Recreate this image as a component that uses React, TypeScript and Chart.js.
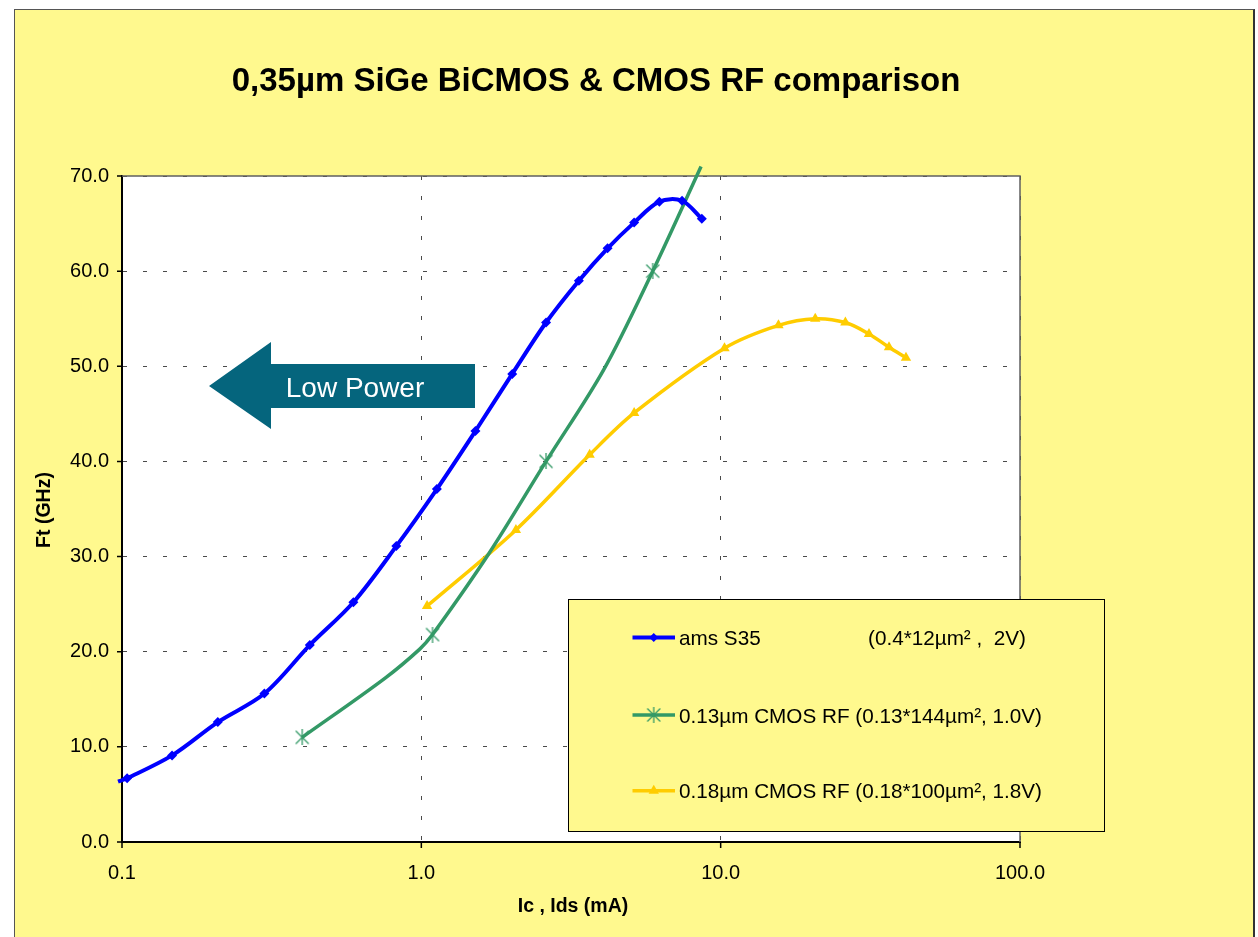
import React, { useEffect, useRef } from 'react';
import { Chart, registerables } from 'chart.js';

Chart.register(...registerables);

const FONT = "'Liberation Sans', Arial, Helvetica, sans-serif";

// ---- text ----
const TITLE = '0,35µm SiGe BiCMOS & CMOS RF comparison';
const X_TITLE = 'Ic , Ids (mA)';
const Y_TITLE = 'Ft (GHz)';
const ARROW_TEXT = 'Low Power';

// ---- ticks ----
const xTickValues = [0.1, 1, 10, 100];
const xTickLabels = ['0.1', '1.0', '10.0', '100.0'];
const yTickValues = [0, 10, 20, 30, 40, 50, 60, 70];

// ---- series: ams S35 ----
const amsLabel = 'ams S35\t(0.4*12µm² ,  2V)';
const amsIc = [0.097, 0.104, 0.147, 0.209, 0.299, 0.424, 0.593, 0.825, 1.127, 1.516, 2.012, 2.61, 3.36, 4.19, 5.14, 6.24, 7.43, 8.65];
const amsFt = [6.35, 6.7, 9.1, 12.6, 15.6, 20.7, 25.2, 31.1, 37.1, 43.2, 49.2, 54.6, 59.0, 62.4, 65.1, 67.3, 67.4, 65.5];
const amsMarked = [0, 1, 1, 1, 1, 1, 1, 1, 1, 1, 1, 1, 1, 1, 1, 1, 1, 1];

// ---- series: 0.13µm CMOS RF ----
const cmos13Label = '0.13µm CMOS RF (0.13*144µm², 1.0V)';
const cmos13Ids = [0.40, 0.755, 0.99, 1.09, 1.68, 2.61, 4.06, 5.93, 8.6];
const cmos13Ft = [11.0, 17.2, 20.3, 21.8, 30.3, 40.0, 49.6, 60.0, 71.0];
const cmos13Marked = [1, 0, 0, 1, 0, 1, 0, 1, 0];

// ---- series: 0.18µm CMOS RF ----
const cmos18Label = '0.18µm CMOS RF (0.18*100µm², 1.8V)';
const cmos18Ids = [1.045, 2.07, 3.65, 5.14, 10.3, 15.6, 20.7, 26.1, 31.3, 36.5, 41.6];
const cmos18Ft = [24.8, 32.8, 40.7, 45.1, 51.9, 54.3, 55.0, 54.6, 53.4, 52.0, 50.9];
const cmos18Marked = [1, 1, 1, 1, 1, 1, 1, 1, 1, 1, 1];

// ---- colours ----
const BG = '#FFF98E';
const BLUE = '#0000FF';
const GREEN = '#339966';
const YELLOW = '#FFCC00';
const ARROW = '#05657D';
const GRID = '#4A4A4A';

// ---- layout (canvas px) ----
const CW = 1238;
const CH = 927;
const AREA = { left: 107, top: 166, right: 1005, bottom: 832 };
const LEGEND = { left: 553, top: 589, right: 1089, bottom: 821, rows: [627.5, 705, 780.7], lineX0: 617.5, lineX1: 660, textX: 664, text2X: 853 };

function makeAsterisk(size: number, color: string, lw: number) {
  const c = document.createElement('canvas');
  c.width = size;
  c.height = size;
  const g = c.getContext('2d')!;
  g.strokeStyle = color;
  g.lineWidth = lw;
  g.beginPath();
  g.moveTo(1.5, 1.5);
  g.lineTo(size - 1.5, size - 1.5);
  g.moveTo(size - 1.5, 1.5);
  g.lineTo(1.5, size - 1.5);
  g.moveTo(size / 2, 0);
  g.lineTo(size / 2, size);
  g.stroke();
  return c;
}

function drawMarker(ctx: CanvasRenderingContext2D, style: any, x: number, y: number, color: string, r: number) {
  ctx.save();
  ctx.fillStyle = color;
  if (style === 'rectRot') {
    ctx.beginPath();
    ctx.moveTo(x, y - r);
    ctx.lineTo(x + r, y);
    ctx.lineTo(x, y + r);
    ctx.lineTo(x - r, y);
    ctx.closePath();
    ctx.fill();
  } else if (style === 'triangle') {
    ctx.beginPath();
    ctx.moveTo(x, y - r);
    ctx.lineTo(x + r * 0.866, y + r * 0.5);
    ctx.lineTo(x - r * 0.866, y + r * 0.5);
    ctx.closePath();
    ctx.fill();
  } else if (style && style.width) {
    ctx.drawImage(style, x - style.width / 2, y - style.height / 2);
  }
  ctx.restore();
}

const decorPlugin = {
  id: 'decor',
  beforeDraw(chart: any) {
    const { ctx, chartArea: a } = chart;
    ctx.save();
    ctx.fillStyle = '#FFFFFF';
    ctx.fillRect(a.left, a.top, a.right - a.left, a.bottom - a.top);
    ctx.restore();
  },
  beforeDatasetsDraw(chart: any) {
    const { ctx, chartArea: a, scales } = chart;
    ctx.save();
    ctx.strokeStyle = '#606060';
    ctx.lineWidth = 1.5;
    ctx.beginPath();
    ctx.moveTo(a.left, a.top);
    ctx.lineTo(a.right, a.top);
    ctx.lineTo(a.right, a.bottom);
    ctx.stroke();
    ctx.strokeStyle = '#000';
    ctx.lineWidth = 1.5;
    ctx.beginPath();
    for (const v of yTickValues) {
      const py = scales.y.getPixelForValue(v);
      ctx.moveTo(a.left - 5, py);
      ctx.lineTo(a.left, py);
    }
    for (const v of xTickValues) {
      const px = scales.x.getPixelForValue(v);
      ctx.moveTo(px, a.bottom);
      ctx.lineTo(px, a.bottom + 6);
    }
    ctx.stroke();
    ctx.restore();
  },
  afterDatasetsDraw(chart: any) {
    const { ctx } = chart;
    ctx.save();
    ctx.fillStyle = ARROW;
    ctx.beginPath();
    ctx.moveTo(194, 376);
    ctx.lineTo(256, 332);
    ctx.lineTo(256, 354);
    ctx.lineTo(460, 354);
    ctx.lineTo(460, 398);
    ctx.lineTo(256, 398);
    ctx.lineTo(256, 419);
    ctx.closePath();
    ctx.fill();
    ctx.fillStyle = '#FFFFFF';
    ctx.font = `28px ${FONT}`;
    ctx.textAlign = 'center';
    ctx.textBaseline = 'alphabetic';
    ctx.fillText(ARROW_TEXT, 340, 387);
    ctx.restore();

    ctx.save();
    ctx.fillStyle = BG;
    ctx.fillRect(LEGEND.left, LEGEND.top, LEGEND.right - LEGEND.left, LEGEND.bottom - LEGEND.top);
    ctx.strokeStyle = '#000';
    ctx.lineWidth = 1;
    ctx.strokeRect(LEGEND.left + 0.5, LEGEND.top + 0.5, LEGEND.right - LEGEND.left, LEGEND.bottom - LEGEND.top);
    chart.data.datasets.forEach((ds: any, i: number) => {
      const y = LEGEND.rows[i];
      ctx.strokeStyle = ds.borderColor;
      ctx.lineWidth = ds.borderWidth;
      ctx.beginPath();
      ctx.moveTo(LEGEND.lineX0, y);
      ctx.lineTo(LEGEND.lineX1, y);
      ctx.stroke();
      drawMarker(ctx, ds.pointStyle, (LEGEND.lineX0 + LEGEND.lineX1) / 2, y, ds.borderColor, ds.legendMarkerRadius);
      ctx.fillStyle = '#000';
      ctx.font = `20.7px ${FONT}`;
      ctx.textAlign = 'left';
      ctx.textBaseline = 'alphabetic';
      const parts = String(ds.label).split('\t');
      ctx.fillText(parts[0], LEGEND.textX, y + 7.5);
      if (parts[1]) ctx.fillText(parts[1], LEGEND.text2X, y + 7.5);
    });
    ctx.restore();
  },
  afterDraw(chart: any) {
    const { ctx } = chart;
    ctx.save();
    ctx.fillStyle = '#000';
    ctx.textAlign = 'center';
    ctx.textBaseline = 'alphabetic';
    ctx.font = `bold 33px ${FONT}`;
    ctx.fillText(TITLE, 581, 81);
    ctx.font = `bold 19.5px ${FONT}`;
    ctx.fillText(X_TITLE, 558, 902);
    ctx.translate(30, 500);
    ctx.rotate(-Math.PI / 2);
    ctx.textBaseline = 'middle';
    ctx.fillText(Y_TITLE, 0, 0);
    ctx.restore();
  },
};

export default function App() {
  const ref = useRef<HTMLCanvasElement>(null);

  useEffect(() => {
    document.body.style.margin = '0';
    const asterisk = makeAsterisk(16, GREEN, 1.3);
    const pts = (xs: number[], ys: number[]) => xs.map((x, i) => ({ x, y: ys[i] }));

    const chart = new Chart(ref.current!, {
      type: 'line',
      data: {
        datasets: [
          {
            label: amsLabel,
            data: pts(amsIc, amsFt),
            borderColor: BLUE,
            backgroundColor: BLUE,
            borderWidth: 4,
            pointStyle: 'rectRot',
            pointRadius: amsMarked.map((m) => (m ? 5 : 0)),
            pointBorderWidth: 0,
            tension: 0.33,
            clip: false,
            legendMarkerRadius: 4.5,
          } as any,
          {
            label: cmos13Label,
            data: pts(cmos13Ids, cmos13Ft),
            borderColor: GREEN,
            backgroundColor: GREEN,
            borderWidth: 3.5,
            pointStyle: asterisk,
            pointRadius: cmos13Marked.map((m) => (m ? 8 : 0)),
            tension: 0.33,
            clip: false,
            legendMarkerRadius: 8,
          } as any,
          {
            label: cmos18Label,
            data: pts(cmos18Ids, cmos18Ft),
            borderColor: YELLOW,
            backgroundColor: YELLOW,
            borderWidth: 3.5,
            pointStyle: 'triangle',
            pointRadius: cmos18Marked.map((m) => (m ? 6 : 0)),
            pointBorderWidth: 0,
            tension: 0.33,
            clip: false,
            legendMarkerRadius: 6,
          } as any,
        ],
      },
      options: {
        responsive: false,
        animation: false,
        events: [],
        layout: {
          padding: { left: 0, top: AREA.top, right: CW - AREA.right, bottom: CH - AREA.bottom - 60 },
        },
        plugins: {
          legend: { display: false },
          title: { display: false },
          tooltip: { enabled: false },
        },
        scales: {
          x: {
            type: 'logarithmic',
            min: 0.1,
            max: 100,
            afterBuildTicks: (s: any) => {
              s.ticks = xTickValues.map((v) => ({ value: v }));
            },
            afterFit: (s: any) => {
              s.height = 60;
            },
            ticks: {
              autoSkip: false,
              maxRotation: 0,
              padding: 19,
              color: '#000',
              font: { family: FONT, size: 20 },
              callback: (_v: any, i: number) => xTickLabels[i],
            },
            grid: { color: GRID, lineWidth: 1, drawTicks: false },
            border: { display: true, color: '#000', width: 2, dash: [4, 16] },
          },
          y: {
            type: 'linear',
            min: 0,
            max: 70,
            afterBuildTicks: (s: any) => {
              s.ticks = yTickValues.map((v) => ({ value: v }));
            },
            afterFit: (s: any) => {
              s.width = AREA.left;
            },
            ticks: {
              padding: 13,
              color: '#000',
              font: { family: FONT, size: 20 },
              callback: (v: any) => Number(v).toFixed(1),
            },
            grid: { color: GRID, lineWidth: 1, drawTicks: false },
            border: { display: true, color: '#000', width: 2, dash: [4, 16] },
          },
        },
      } as any,
      plugins: [decorPlugin],
    });
    return () => chart.destroy();
  }, []);

  return (
    <div
      style={{
        position: 'fixed',
        left: 14,
        top: 9,
        width: CW,
        height: 928,
        background: BG,
        borderLeft: '1px solid #555',
        borderTop: '1px solid #555',
        borderRight: '2px solid #333',
      }}
    >
      <canvas ref={ref} width={CW} height={CH} style={{ display: 'block' }} />
    </div>
  );
}
